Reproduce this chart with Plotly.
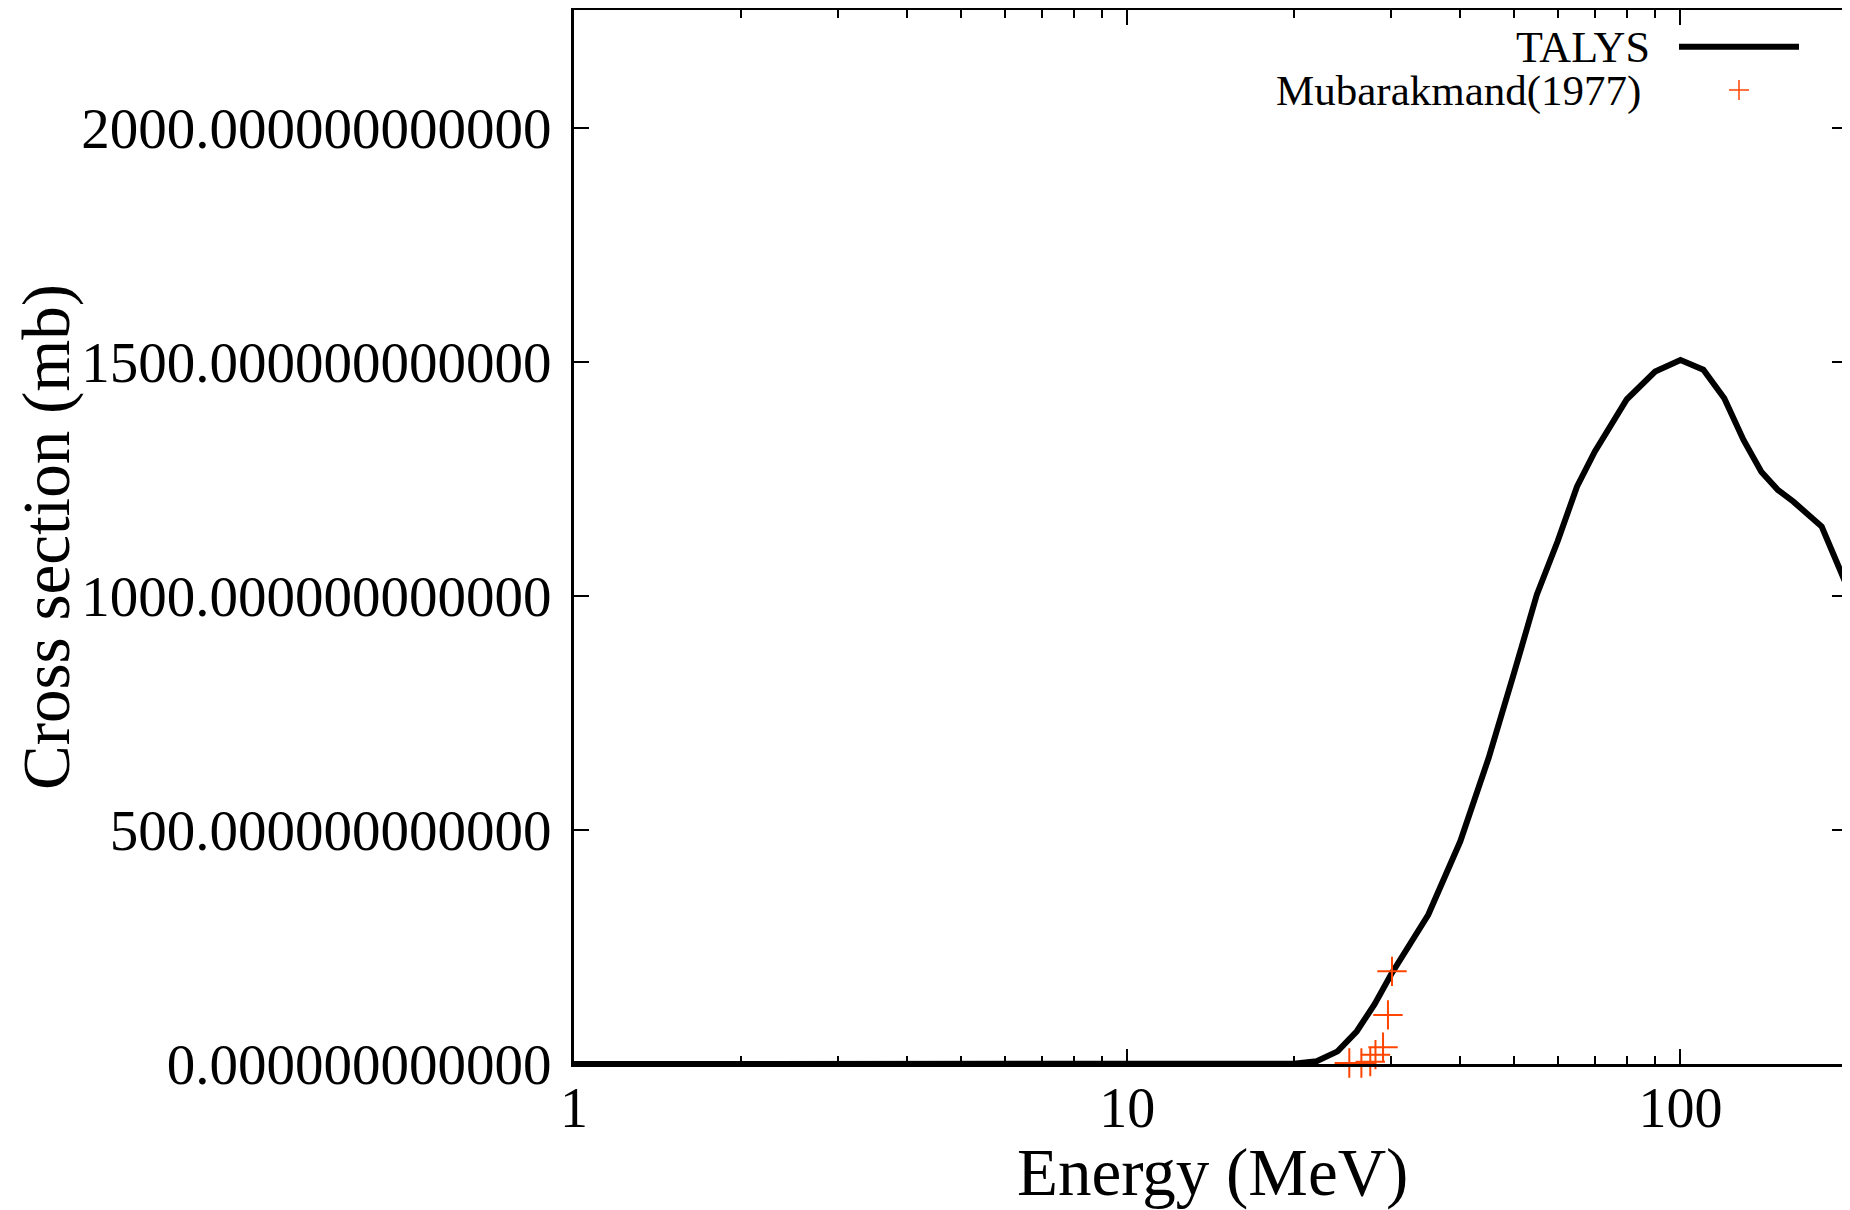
import plotly.graph_objects as go

# TALYS calculation
talys_energy = [1, 2, 3, 4, 5, 6, 7, 8, 9, 10, 11, 12, 13, 14, 15, 16, 17, 18, 19,
                20, 22, 24, 26, 28, 30, 35, 40, 45, 50, 55, 60, 65, 70, 80, 90,
                100, 110, 120, 130, 140, 150, 160, 180, 200]
talys_xs = [0, 0, 0, 0, 0, 0, 0, 0, 0, 0, 0, 0, 0, 0, 0, 0, 0, 0, 0,
            0.5, 6, 27, 70, 128, 192, 319, 476, 654, 835, 1003, 1118, 1234, 1309, 1421, 1480,
            1505, 1484, 1423, 1334, 1266, 1227, 1202, 1149, 1021]

# Experimental data: Mubarakmand (1977)
exp_energy = [25.2, 26.5, 27.5, 28.1, 29.0, 29.6, 30.1]
exp_xs = [2, 2, 5, 20, 36, 105, 198]

y_ticks = [0, 500, 1000, 1500, 2000]
x_ticks = [1, 10, 100]
x_minor = [2, 3, 4, 5, 6, 7, 8, 9, 20, 30, 40, 50, 60, 70, 80, 90, 200]

OFF = 8  # page body margin
W, H = 1850 - OFF, 1210 - OFF
L, R, T, B = 574 - OFF, 3, 2, 146
PW, PH = W - L - R, H - T - B


def px(x):  # page pixel -> paper
    return (x - OFF - L) / PW


def py(y):
    return (H - B - (y - OFF)) / PH


FONT = "Liberation Serif"
ORANGE = "#ff4500"

fig = go.Figure()
fig.add_trace(go.Scatter(
    x=talys_energy, y=talys_xs, mode="lines", name="TALYS",
    line=dict(color="black", width=6), cliponaxis=False, showlegend=False))
fig.add_trace(go.Scatter(
    x=exp_energy, y=exp_xs, mode="markers", name="Mubarakmand(1977)",
    marker=dict(symbol="cross-thin", size=21, color=ORANGE,
                line=dict(color=ORANGE, width=2)),
    cliponaxis=False, showlegend=False))

fig.update_layout(
    width=W, height=H,
    margin=dict(l=L, r=R, t=T, b=B, autoexpand=False),
    paper_bgcolor="white", plot_bgcolor="white",
    font=dict(family=FONT, color="black"),
    showlegend=False,
)
fig.update_xaxes(
    type="log", range=[0, 2.30103], showgrid=False, zeroline=False,
    showline=True, linecolor="black", linewidth=3, mirror="allticks",
    ticks="inside", ticklen=15, tickwidth=2, tickcolor="black",
    tickvals=x_ticks, ticktext=[str(v) for v in x_ticks],
    tickfont=dict(family=FONT, size=56, color="black"),
    ticklabelstandoff=-7,
    minor=dict(tickvals=x_minor, ticks="inside", ticklen=8, tickwidth=2,
               tickcolor="black", showgrid=False),
)
fig.update_yaxes(
    range=[0, 2253], showgrid=False, zeroline=False,
    showline=True, linecolor="black", linewidth=3, mirror="allticks",
    ticks="inside", ticklen=15, tickwidth=2, tickcolor="black",
    tickvals=y_ticks, ticktext=[f"{v:.12f}" for v in y_ticks],
    tickfont=dict(family=FONT, size=57, color="black"),
    ticklabelstandoff=8,
)

annotations = [
    dict(text="Energy (MeV)", x=px(1212), y=py(1172), xref="paper", yref="paper",
         xanchor="center", yanchor="middle", showarrow=False,
         font=dict(family=FONT, size=67, color="black")),
    dict(text="Cross section (mb)", x=px(46), y=py(537), xref="paper", yref="paper",
         xanchor="center", yanchor="middle", showarrow=False, textangle=-90,
         borderpad=0,
         font=dict(family=FONT, size=67, color="black")),
    dict(text="TALYS", x=px(1652), y=py(48), xref="paper", yref="paper",
         xanchor="right", yanchor="middle", showarrow=False,
         font=dict(family=FONT, size=44, color="black")),
    dict(text="Mubarakmand(1977)", x=px(1643), y=py(91), xref="paper", yref="paper",
         xanchor="right", yanchor="middle", showarrow=False,
         font=dict(family=FONT, size=43, color="black")),
]
shapes = [
    dict(type="line", xref="paper", yref="paper", x0=px(1679), x1=px(1799),
         y0=py(46.7), y1=py(46.7), line=dict(color="black", width=6)),
    dict(type="line", xref="paper", yref="paper", x0=px(1729), x1=px(1749),
         y0=py(90), y1=py(90), line=dict(color=ORANGE, width=1.5)),
    dict(type="line", xref="paper", yref="paper", x0=px(1739), x1=px(1739),
         y0=py(80), y1=py(100), line=dict(color=ORANGE, width=1.5)),
]
fig.update_layout(annotations=annotations, shapes=shapes)

fig.write_html("out.html")
